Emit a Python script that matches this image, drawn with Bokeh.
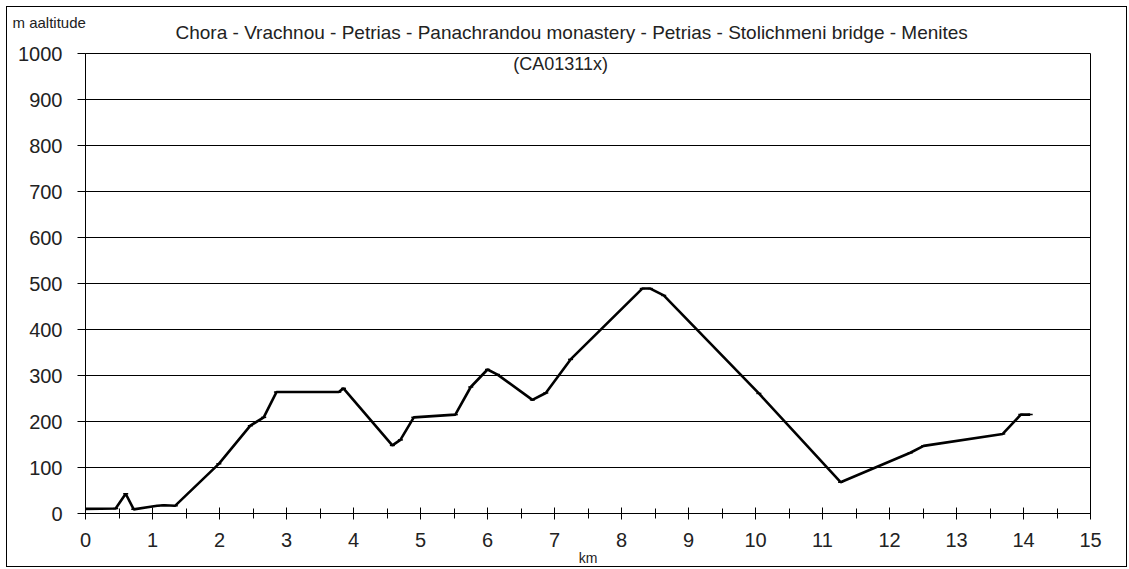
from bokeh.plotting import figure
from bokeh.models import Range1d, SingleIntervalTicker, Label, Title
from bokeh.embed import file_html
from bokeh.resources import INLINE

# Data (km, m altitude)
km = [0.0, 0.45, 0.6, 0.72, 1.07, 1.17, 1.34, 1.99, 2.46, 2.66, 2.85, 3.78, 3.85,
      4.58, 4.70, 4.90, 5.52, 5.75, 6.0, 6.15, 6.67, 6.87, 7.24, 8.31, 8.43, 8.63,
      10.05, 11.27, 12.31, 12.51, 13.69, 13.96, 14.1]
alt = [10, 11, 43, 9, 17, 18, 17, 108, 191, 209, 264, 264, 272,
       148, 160, 209, 215, 275, 313, 302, 247, 262, 335, 489, 489, 474,
       261, 68, 132, 147, 173, 215, 215]

title_line1 = "Chora - Vrachnou - Petrias - Panachrandou monastery - Petrias - Stolichmeni bridge - Menites"
title_line2 = "(CA01311x)"
y_label = "m aaltitude"
x_label = "km"

FONT = "Liberation Sans"
TXT = "#222222"

p = figure(width=1121, height=561, output_backend="svg", toolbar_location=None,
           x_range=Range1d(0, 15), y_range=Range1d(0, 1000),
           min_border_left=78, min_border_right=38, min_border_top=46, min_border_bottom=52)
p.styles = {"border": "1px solid black", "margin-left": "6px", "margin-top": "6px"}

p.outline_line_color = "black"
p.outline_line_width = 1
p.background_fill_color = "white"
p.border_fill_color = "white"

# outer small caption (top-left) is the figure's own title; main title sits below it
p.title.text = y_label
p.title.align = "left"
p.title.offset = -73
p.title.text_font = FONT
p.title.text_font_size = "15px"
p.title.text_font_style = "normal"
p.title.text_color = TXT
p.title.standoff = -45

p.add_layout(Title(text=title_line1, align="left", offset=90, text_font=FONT,
                   text_font_size="19px", text_font_style="normal",
                   text_color=TXT, standoff=22), "above")

# x axis
p.xaxis.ticker = SingleIntervalTicker(interval=1, num_minor_ticks=2)
p.xaxis.axis_line_color = "black"
p.xaxis.major_tick_line_color = "black"
p.xaxis.minor_tick_line_color = "black"
p.xaxis.major_tick_in = 6
p.xaxis.major_tick_out = 6
p.xaxis.minor_tick_in = 5
p.xaxis.minor_tick_out = 5
p.xaxis.major_label_standoff = 13
p.xaxis.major_label_text_font = FONT
p.xaxis.major_label_text_font_size = "20px"
p.xaxis.major_label_text_color = TXT
p.xaxis.axis_label = x_label
p.xaxis.axis_label_text_font = FONT
p.xaxis.axis_label_text_font_size = "14px"
p.xaxis.axis_label_text_font_style = "normal"
p.xaxis.axis_label_text_color = TXT
p.xaxis.axis_label_standoff = 0

# y axis
p.yaxis.ticker = SingleIntervalTicker(interval=100, num_minor_ticks=0)
p.yaxis.axis_line_color = "black"
p.yaxis.major_tick_line_color = "black"
p.yaxis.major_tick_in = 0
p.yaxis.major_tick_out = 8
p.yaxis.minor_tick_line_color = None
p.yaxis.major_label_standoff = 15
p.yaxis.major_label_text_font = FONT
p.yaxis.major_label_text_font_size = "20px"
p.yaxis.major_label_text_color = TXT

p.xgrid.grid_line_color = None
p.ygrid.grid_line_color = "black"
p.ygrid.grid_line_width = 1
p.ygrid.grid_line_alpha = 1.0

p.line(km, alt, line_color="black", line_width=2.6)
p.scatter(km, alt, marker="dash", size=5, line_color="black", line_width=1.5)

p.add_layout(Label(x=7.09, y=998, text=title_line2, text_align="center",
                   text_baseline="top", text_font=FONT, text_font_size="18px",
                   text_color=TXT))

open("out.html", "w").write(file_html(p, INLINE))
